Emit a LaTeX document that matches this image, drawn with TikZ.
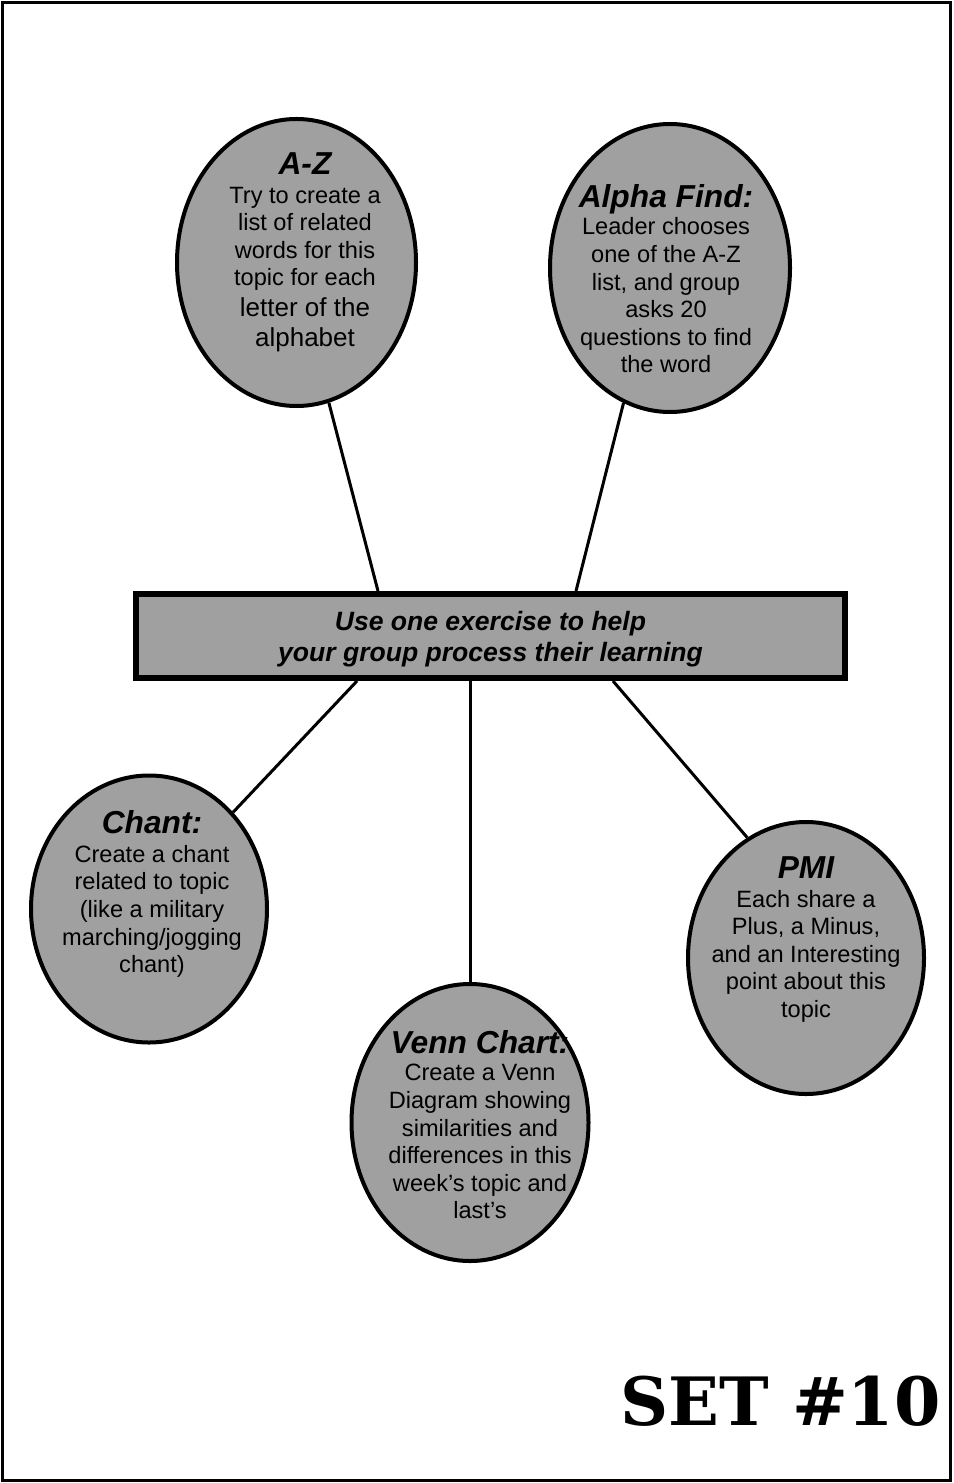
\documentclass[tikz,border=0pt]{standalone}
\usepackage{fontspec}
\setmainfont{Liberation Sans}
\newfontfamily\slabfont{DejaVu Serif}
\usetikzlibrary{shapes.geometric}

\definecolor{dither}{RGB}{160,160,160}
\tikzset{
  bubble/.style={ellipse, draw, line width=3pt, fill=dither, inner sep=0pt},
  bubbletext/.style={anchor=north, inner sep=0.75pt, align=center, font=\fontsize{17.7}{20.7}\selectfont},
  spoke/.style={line width=2.25pt},
}
\newcommand{\bubbletitle}[1]{{\fontsize{23.8}{26}\selectfont\bfseries\itshape #1}}

\begin{document}
\begin{tikzpicture}[x=0.75pt,y=0.75pt,yscale=-1,xscale=1]
\useasboundingbox (0,0) rectangle (953,1483);
%Shape: Rectangle [id:dp4418207735610293] 
\draw [line width=2.25pt] (2.5,2.5) -- (950.5,2.5) -- (950.5,1480.5) -- (2.5,1480.5) -- cycle ;
%Shape: Rectangle [id:dp9027351184467712] 
\node [draw, line width=4.5pt, fill=dither, minimum width=531.75pt, minimum height=63pt, inner sep=0pt, align=center, font=\fontsize{19.9}{23.25}\selectfont\bfseries\itshape] (task) at (490.5,636) {\rule{0pt}{19pt}Use one exercise to help\\ your group process their learning};
%Shape: Ellipse [id:dp2650197338104921] 
\node [bubble, minimum width=179.25pt, minimum height=215.25pt] (az) at (296.5,262.5) {};
%Shape: Ellipse [id:dp7731045269823014] 
\node [bubble, minimum width=180pt, minimum height=216pt] (alpha) at (670,268) {};
%Shape: Ellipse [id:dp0592867713421586] 
\node [bubble, minimum width=177pt, minimum height=200.25pt] (chant) at (149,909) {};
%Shape: Ellipse [id:dp8316640275519047] 
\node [bubble, minimum width=177.75pt, minimum height=207.75pt] (venn) at (470,1122.5) {};
%Shape: Ellipse [id:dp3364892710458195] 
\node [bubble, minimum width=177pt, minimum height=204pt] (pmi) at (806,958) {};
%Straight Lines [id:da6120948735102284] 
\draw [spoke] (az.-77) -- ([shift={(-112.5,0)}]task.north) ;
%Straight Lines [id:da1938476602257193] 
\draw [spoke] (alpha.-109) -- ([shift={(85.5,0)}]task.north) ;
%Straight Lines [id:da7745032918463301] 
\draw [spoke] ([shift={(-133.5,0)}]task.south) -- (chant.49) ;
%Straight Lines [id:da2289174035609146] 
\draw [spoke] ([shift={(-20.5,0)}]task.south) -- (venn.north) ;
%Straight Lines [id:da5081367241959733] 
\draw [spoke] ([shift={(122.5,0)}]task.south) -- (pmi.116) ;
% Text Node
\node [bubbletext] (aztext) at (305,151) {\bubbletitle{A-Z}\\[1pt] Try to create a\\ list of related\\ words for this\\ topic for each\\[2pt] {\fontsize{19.5}{22}\selectfont letter of the}\\[2pt] {\fontsize{19.5}{22}\selectfont alphabet}};
% Text Node
\node [bubbletext] (alphatext) at (666,183) {\bubbletitle{Alpha Find:}\\ Leader chooses\\ one of the A-Z\\ list, and group\\ asks 20\\ questions to find\\ the word};
% Text Node
\node [bubbletext] (chanttext) at (152,809) {\bubbletitle{Chant:}\\[1pt] Create a chant\\ related to topic\\ (like a military\\ marching/jogging\\ chant)};
% Text Node
\node [bubbletext] (venntext) at (480,1029) {\bubbletitle{Venn Chart:}\\ Create a Venn\\ Diagram showing\\ similarities and\\ differences in this\\ week’s topic and\\ last’s};
% Text Node
\node [bubbletext] (pmitext) at (806,855) {\bubbletitle{PMI}\\[1pt] Each share a\\ Plus, a Minus,\\ and an Interesting\\ point about this\\ topic};
% Text Node
\node [anchor=base, inner sep=0pt, font=\slabfont\bfseries\fontsize{50}{60}\selectfont] (setno) at (780.5,1425) {SET \#10};
\end{tikzpicture}
\end{document}
